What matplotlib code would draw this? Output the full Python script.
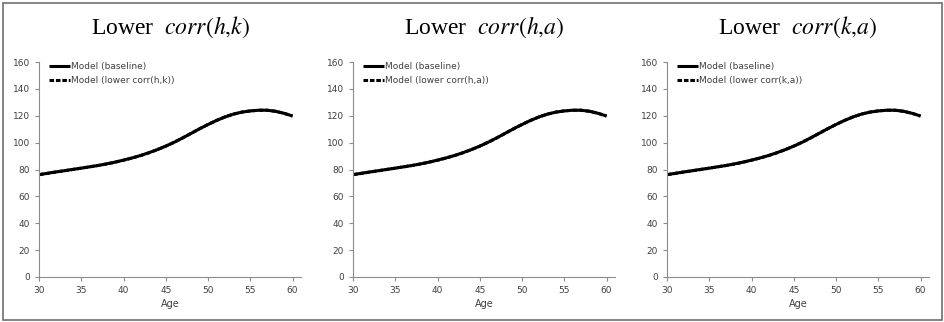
import matplotlib
matplotlib.use("Agg")
import matplotlib.pyplot as plt
from matplotlib.patches import Rectangle

ages = list(range(30, 61))
baseline = [76.2, 77.2, 78.2, 79.1, 80.1, 81.0, 82.0, 83.0, 84.2, 85.5, 87.0,
            88.6, 90.4, 92.5, 94.8, 97.4, 100.3, 103.5, 106.9, 110.3, 113.5,
            116.5, 119.1, 121.2, 122.7, 123.6, 124.1, 124.1, 123.3, 121.8, 119.8]
lower = [76.1, 77.1, 78.1, 79.1, 80.0, 81.0, 82.0, 83.0, 84.1, 85.4, 86.9,
         88.5, 90.3, 92.4, 94.8, 97.4, 100.3, 103.5, 106.9, 110.3, 113.5,
         116.5, 119.1, 121.2, 122.7, 123.6, 124.1, 124.1, 123.3, 121.8, 119.8]
titles = [r"Lower  $corr(h{,}k)$", r"Lower  $corr(h{,}a)$", r"Lower  $corr(k{,}a)$"]
legend_labels = ["Model (lower corr(h,k))", "Model (lower corr(h,a))", "Model (lower corr(k,a))"]
yticks = [0, 20, 40, 60, 80, 100, 120, 140, 160]
xticks = [30, 35, 40, 45, 50, 55, 60]

plt.rcParams['mathtext.fontset'] = 'stix'
fig = plt.figure(figsize=(9.44, 3.22), dpi=100)
grey = "#8c8c8c"
tcol = "#404040"
lefts = [39/944, 353/944, 667/944]
for i in range(3):
    ax = fig.add_axes([lefts[i], 45/322, 262/944, 215/322])
    ax.plot(ages, baseline, color="black", lw=2.2, solid_capstyle='butt', label="Model (baseline)")
    ax.plot(ages, lower, color="black", lw=2.2, ls=(0, (1.5, 0.6)), label=legend_labels[i])
    ax.set_xlim(30, 61)
    ax.set_ylim(0, 160)
    ax.set_xticks(xticks)
    ax.set_yticks(yticks)
    for s in ["top", "right"]:
        ax.spines[s].set_visible(False)
    for s in ["left", "bottom"]:
        ax.spines[s].set_color(grey)
        ax.spines[s].set_linewidth(0.8)
    ax.tick_params(axis='both', colors=grey, labelcolor=tcol, labelsize=6.5, length=3, width=0.8, direction='out')
    ax.set_xlabel("Age", fontsize=7, color=tcol, labelpad=3)
    ax.set_title(titles[i], fontsize=17, family="Liberation Serif", pad=20)
    leg = ax.legend(loc='upper left', bbox_to_anchor=(0.04, 1.0), frameon=False,
                    fontsize=6.5, handlelength=2.3, handletextpad=0.1,
                    labelspacing=0.55, borderpad=0, borderaxespad=0)
    for t in leg.get_texts():
        t.set_color(tcol)

fig.patches.append(Rectangle((3/944, 2/322), 939/944, 317/322, transform=fig.transFigure,
                             fill=False, edgecolor="#707070", lw=1.2))
fig.savefig("out.png", dpi=100)
